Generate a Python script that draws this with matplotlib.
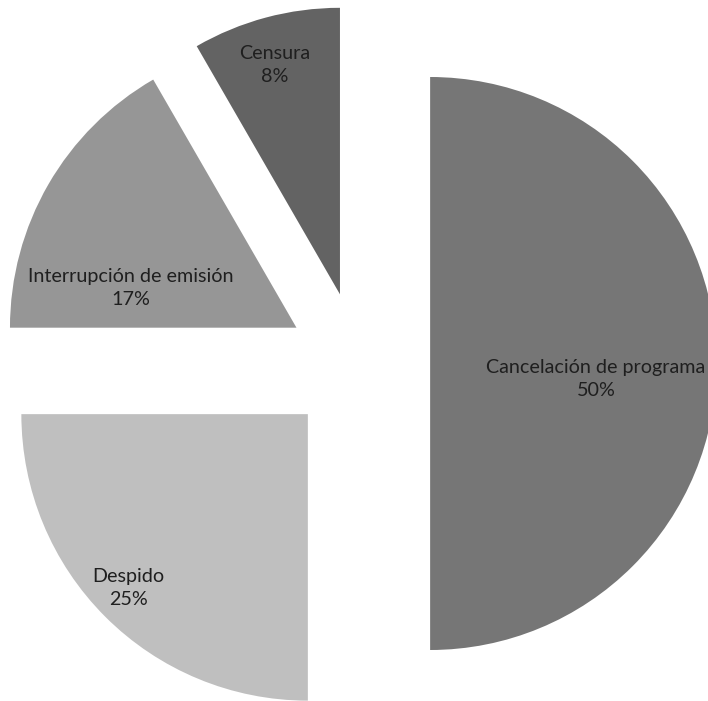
import numpy as np
import matplotlib.pyplot as plt

labels = ['Cancelación de programa', 'Despido', 'Interrupción de emisión', 'Censura']
values = [6, 3, 2, 1]
colors = ['#767676', '#bfbfbf', '#969696', '#636363']

# label anchor points in figure pixels (x from left, y from top)
label_px = [(596, 379), (128, 588), (131, 288), (275, 65)]

W, H = 708, 701
R_PX = 286.5
CX, CY = 358.5, 363.5

fig = plt.figure(figsize=(W / 100, H / 100), dpi=100)
ax = fig.add_axes([0, 0, 1, 1])

wedges, _ = ax.pie(values, colors=colors, startangle=90, counterclock=False,
                   radius=1, explode=[0.25] * len(values),
                   wedgeprops=dict(linewidth=0))

ax.set_aspect('auto')
ax.set_xlim(-CX / R_PX, (W - CX) / R_PX)
ax.set_ylim(-(H - CY) / R_PX, CY / R_PX)
ax.axis('off')

total = sum(values)
for lab, v, (px, py) in zip(labels, values, label_px):
    fig.text(px / W, 1 - py / H, '%s\n%d%%' % (lab, round(100 * v / total)),
             ha='center', va='center', fontsize=14.2, family='Lato',
             color='#1f1f1f', linespacing=1.45)

plt.savefig('out.png', dpi=100)
